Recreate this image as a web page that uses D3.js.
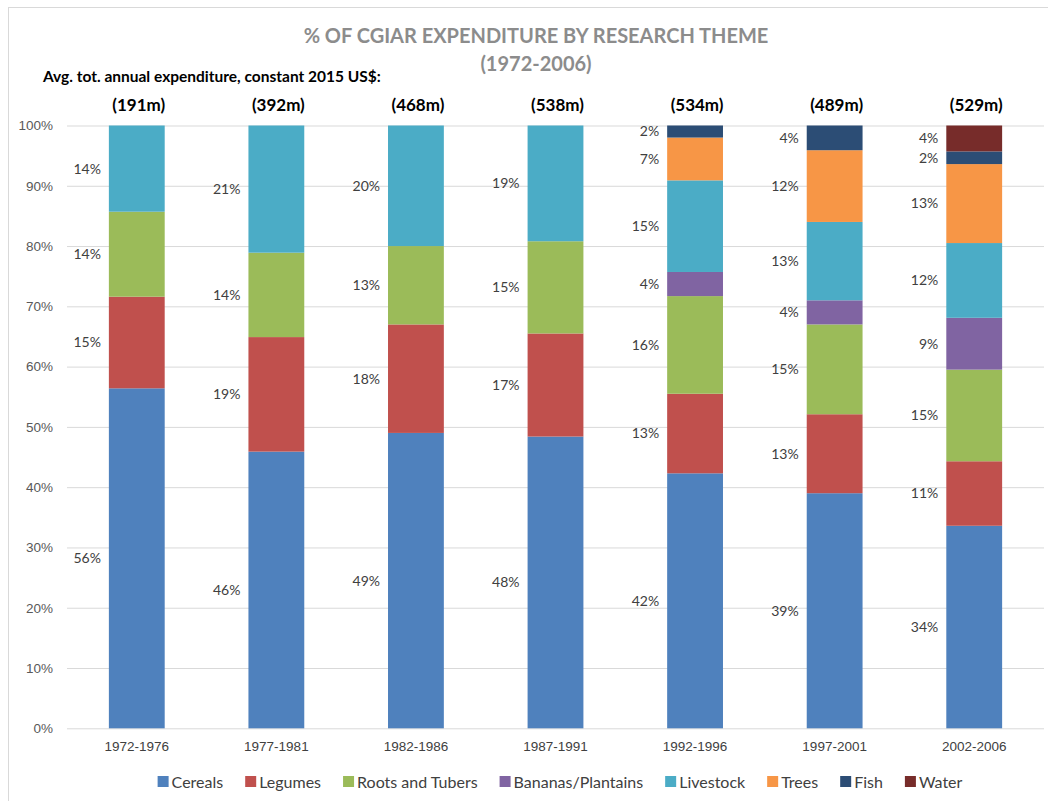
<!DOCTYPE html>
<html>
<head>
<meta charset="utf-8">
<script src="https://cdn.jsdelivr.net/npm/d3@7"></script>
<style>
  body { margin: 0; background: #fff; }
  svg { display: block; font-family: Lato, "Open Sans", sans-serif; }
</style>
</head>
<body>
<svg id="chart" width="1048" height="801"></svg>
<script>
// data (percent of expenditure)
const periods = ['1972-1976', '1977-1981', '1982-1986', '1987-1991', '1992-1996', '1997-2001', '2002-2006'];
const totals = [191, 392, 468, 538, 534, 489, 529];
const themes = ['Cereals', 'Legumes', 'Roots and Tubers', 'Bananas/Plantains', 'Livestock', 'Trees', 'Fish', 'Water'];
const colors = ['#4f81bd', '#c0504d', '#9bbb59', '#8064a2', '#4bacc6', '#f79646', '#2c4d75', '#772c2a'];
const cereals = [56.4, 45.9, 49.0, 48.4, 42.3, 39.0, 33.6];
const legumes = [15.2, 19.0, 18.0, 17.1, 13.2, 13.1, 10.7];
const roots = [14.1, 14.0, 13.0, 15.3, 16.2, 14.9, 15.2];
const bananas = [0, 0, 0, 0, 4.0, 4.0, 8.6];
const livestock = [14.3, 21.1, 20.0, 19.2, 15.2, 13.0, 12.4];
const trees = [0, 0, 0, 0, 7.1, 11.9, 13.1];
const fish = [0, 0, 0, 0, 2.0, 4.1, 2.1];
const water = [0, 0, 0, 0, 0, 0, 4.3];
const yTicks = [0, 10, 20, 30, 40, 50, 60, 70, 80, 90, 100];

const series = [cereals, legumes, roots, bananas, livestock, trees, fish, water];
const rows = periods.map((p, i) => {
  let r = { period: p };
  themes.forEach((t, j) => { r[t] = series[j][i]; });
  return r;
});

const svg = d3.select('#chart');
const plotL = 67, plotR = 1044, plotT = 125.5, plotB = 728.3;

// chart border
svg.append('rect')
  .attr('x', 8.5).attr('y', 7.5)
  .attr('width', 1060).attr('height', 820)
  .attr('fill', 'none').attr('stroke', '#d9d9d9');

const x = d3.scaleBand()
  .domain(periods)
  .range([plotL, plotR])
  .paddingInner(0.6)
  .paddingOuter(0.3);
const y = d3.scaleLinear().domain([0, 100]).range([plotB, plotT]);

// gridlines + y labels
const yAxis = svg.append('g')
  .attr('transform', `translate(${plotL},0)`)
  .call(d3.axisLeft(y).tickValues(yTicks).tickFormat(d => d + '%')
    .tickSize(-(plotR - plotL)).tickPadding(14));
yAxis.select('.domain').remove();
yAxis.selectAll('line').attr('stroke', '#d9d9d9');
yAxis.selectAll('text').attr('fill', '#595959').style('font-size', '13.5px');

const xAxis = svg.append('g')
  .attr('transform', `translate(0,${plotB})`)
  .call(d3.axisBottom(x).tickSize(0).tickPadding(13));
xAxis.select('.domain').remove();
xAxis.selectAll('text').attr('fill', '#404040').style('font-size', '13.5px');

const stacked = d3.stack().keys(themes)(rows);

const layer = svg.append('g').selectAll('g')
  .data(stacked)
  .enter()
  .append('g')
  .attr('fill', (d, i) => colors[i]);

layer.selectAll('rect')
  .data(d => d.filter(s => s[1] - s[0] > 0))
  .enter()
  .append('rect')
  .attr('x', d => x(d.data.period))
  .attr('width', x.bandwidth())
  .attr('y', d => y(d[1]))
  .attr('height', d => y(d[0]) - y(d[1]));

layer.selectAll('text')
  .data(d => d.filter(s => s[1] - s[0] > 0))
  .enter()
  .append('text')
  .attr('x', d => x(d.data.period) - 8)
  .attr('y', d => (y(d[0]) + y(d[1])) / 2)
  .attr('dy', '0.35em')
  .attr('text-anchor', 'end')
  .attr('fill', '#404040')
  .style('font-size', '14px')
  .text(d => Math.round(d[1] - d[0]) + '%');

// totals over the bars
svg.append('g').selectAll('text')
  .data(periods)
  .enter()
  .append('text')
  .attr('x', d => x(d) + x.bandwidth() / 2 + 2)
  .attr('y', 111)
  .attr('text-anchor', 'middle')
  .style('font-size', '17px')
  .style('font-weight', 'bold')
  .attr('fill', '#000')
  .text((d, i) => '(' + totals[i] + 'm)');

// titles
svg.append('text')
  .attr('x', 536).attr('y', 43)
  .attr('text-anchor', 'middle')
  .style('font-size', '20px').style('font-weight', 'bold')
  .attr('fill', '#8c8c8c')
  .text('% OF CGIAR EXPENDITURE BY RESEARCH THEME');
svg.append('text')
  .attr('x', 536).attr('y', 71)
  .attr('text-anchor', 'middle')
  .style('font-size', '20px').style('font-weight', 'bold')
  .attr('fill', '#8c8c8c')
  .text('(1972-2006)');
svg.append('text')
  .attr('x', 43).attr('y', 82)
  .style('font-size', '15.5px').style('font-weight', 'bold')
  .attr('fill', '#000')
  .text('Avg. tot. annual expenditure, constant 2015 US$:');

// legend
const legend = svg.append('g').attr('transform', 'translate(0,782)');
const items = legend.selectAll('g')
  .data(themes)
  .enter()
  .append('g');
items.append('rect')
  .attr('width', 11).attr('height', 11)
  .attr('y', -6)
  .attr('fill', (d, i) => colors[i]);
items.append('text')
  .attr('x', 14)
  .attr('dy', '0.35em')
  .style('font-size', '16px')
  .attr('fill', '#404040')
  .text(d => d);
let pos = 0;
const offsets = [];
items.each(function () {
  offsets.push(pos);
  pos += 14 + d3.select(this).select('text').node().getComputedTextLength() + 22;
});
const legendW = pos - 22;
const start = 560 - legendW / 2;
items.attr('transform', (d, i) => `translate(${start + offsets[i]},0)`);
</script>
</body>
</html>
